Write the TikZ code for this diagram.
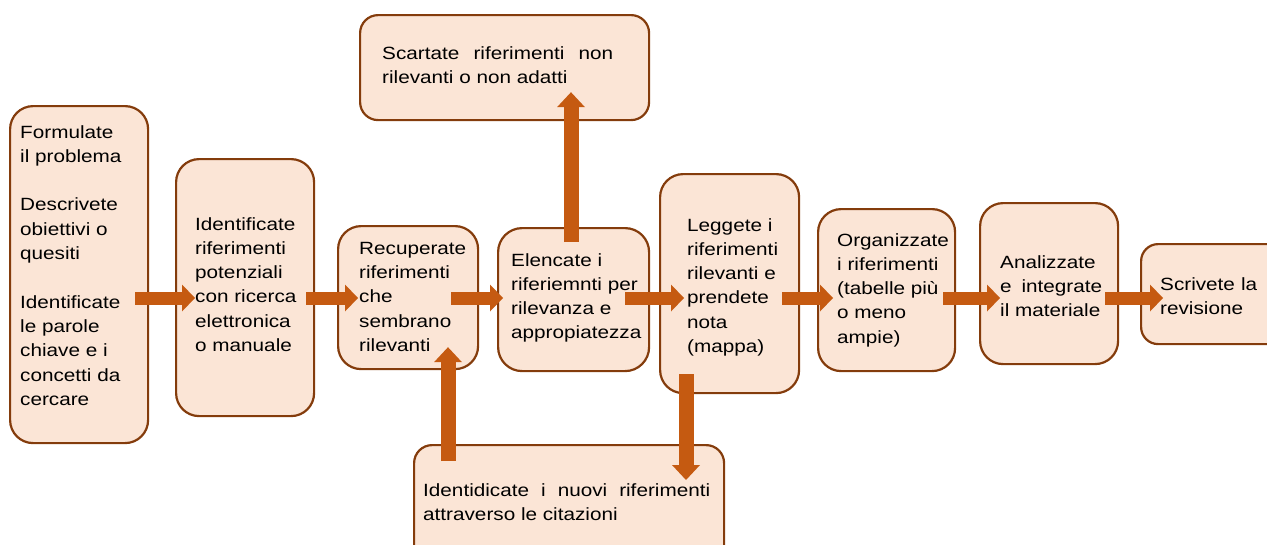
\documentclass[tikz,border=0pt]{standalone}
\usepackage{fontspec}
\setmainfont{Liberation Sans}[FakeStretch=1.17]
\usetikzlibrary{arrows.meta,calc}
\definecolor{boxfill}{HTML}{FBE5D6}
\definecolor{boxline}{HTML}{843C0C}
\definecolor{flowc}{HTML}{C55A11}
\newcommand{\spreadline}[2]{\makebox[#1][s]{#2}}
\begin{document}
\begin{tikzpicture}[x=1pt,y=-1pt,
  box/.style={draw=boxline, fill=boxfill, line width=2.2pt, inner sep=0pt,
    anchor=north west, rounded corners=#1},
  box/.default=23pt,
  txt/.style={anchor=north west, inner sep=0pt, align=left, text=black,
    font=\fontsize{17.7}{24.3}\selectfont},
  hflow/.style={draw=flowc, line width=13pt,
    -{Triangle[width=27pt,length=13pt,line width=0pt]}},
  vflow/.style={draw=flowc, line width=15pt,
    -{Triangle[width=28pt,length=15pt,line width=0pt]}}]
\useasboundingbox (0,0) rectangle (1267,544);
\clip (0,0) rectangle (1267,544);

% process boxes
\node[box, minimum width=138pt, minimum height=337pt] (b1) at (9,105) {};
\node[box, minimum width=138pt, minimum height=257pt] (b2) at (175,158) {};
\node[box, minimum width=140pt, minimum height=143pt] (b3) at (337,225) {};
\node[box=24pt, minimum width=151pt, minimum height=143pt] (b4) at (497,227) {};
\node[box, minimum width=139pt, minimum height=219pt] (b5) at (659,173) {};
\node[box, minimum width=137pt, minimum height=162pt] (b6) at (817,208) {};
\node[box, minimum width=138pt, minimum height=161pt] (b7) at (979,202) {};
\node[box=17pt, minimum width=150pt, minimum height=100pt] (b8) at (1140,243) {};
\node[box=18pt, minimum width=289pt, minimum height=105pt] (top) at (359,14) {};
\node[box=18pt, minimum width=310pt, minimum height=121pt] (bot) at (413,444) {};

% box texts
\node[txt] (t1) at (20,125) {Formulate\\il problema\\[24.3pt]Descrivete\\obiettivi o\\quesiti\\[24.3pt]Identificate\\le parole\\chiave e i\\concetti da\\cercare};
\node[txt] (t2) at (195,217) {Identificate\\riferimenti\\potenziali\\con ricerca\\elettronica\\o manuale};
\node[txt] (t3) at (359,242) {Recuperate\\riferimenti\\che\\sembrano\\rilevanti};
\node[txt] (t4) at (511,253) {Elencate i\\riferiemnti per\\rilevanza e\\appropiatezza};
\node[txt] (t5) at (687,218) {Leggete i\\riferimenti\\rilevanti e\\prendete\\nota\\(mappa)};
\node[txt] (t6) at (837,233) {Organizzate\\i riferimenti\\(tabelle più\\o meno\\ampie)};
\node[txt] (t7) at (1000,255) {Analizzate\\\spreadline{102pt}{e integrate}\\il materiale};
\node[txt] (t8) at (1160,277) {\spreadline{97pt}{Scrivete la}\\revisione};
\node[txt] (ttop) at (382,46) {\spreadline{231pt}{Scartate riferimenti non}\\rilevanti o non adatti};
\node[txt] (tbot) at (423,483) {\spreadline{287pt}{Identidicate i nuovi riferimenti}\\attraverso le citazioni};

% main flow
\coordinate (row) at (0,298);
\draw[hflow] ([xshift=-14pt]b1.east |- row) -- ([xshift=20pt]b2.west |- row);
\draw[hflow] ([xshift=-9pt]b2.east |- row) -- ([xshift=21pt]b3.west |- row);
\draw[hflow] ([xshift=-28pt]b3.east |- row) -- ([xshift=6pt]b4.west |- row);
\draw[hflow] ([xshift=-25pt]b4.east |- row) -- ([xshift=25pt]b5.west |- row);
\draw[hflow] ([xshift=-18pt]b5.east |- row) -- ([xshift=16pt]b6.west |- row);
\draw[hflow] ([xshift=-13pt]b6.east |- row) -- ([xshift=21pt]b7.west |- row);
\draw[hflow] ([xshift=-14pt]b7.east |- row) -- ([xshift=23pt]b8.west |- row);

% side branches
\draw[vflow] ($(b4.north west)+(74,15)$) -- ($(top.south west)+(212,-29)$);
\draw[vflow] ($(bot.north west)+(35,17)$) -- ($(b3.south west)+(111,-23)$);
\draw[vflow] ($(b5.south west)+(27,-20)$) -- ($(bot.north west)+(273,36)$);
\end{tikzpicture}
\end{document}
